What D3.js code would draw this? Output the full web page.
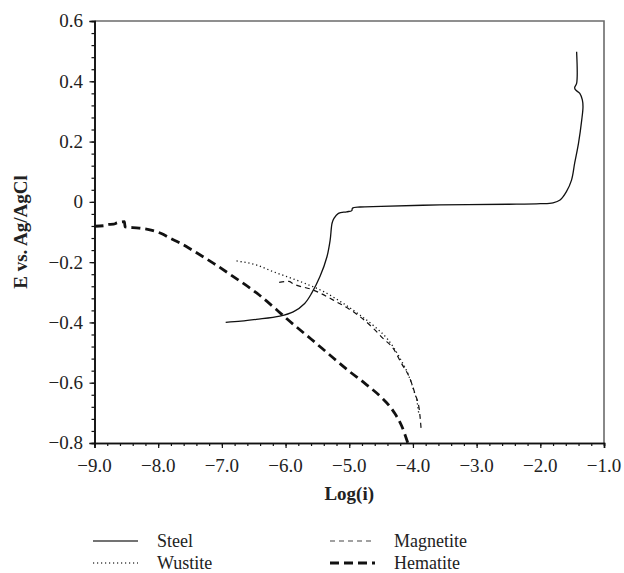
<!DOCTYPE html>
<html>
<head>
    <meta charset="UTF-8">
    <script src="https://d3js.org/d3.v7.min.js"></script>
    <style>
        body { margin: 0; background: #fff; }
        svg text { font-family: "Liberation Serif", serif; fill: #222; }
        .axis-title { font-weight: bold; font-size: 19px; }
        .tick-label { font-size: 19px; }
        .legend-label { font-size: 18px; }
    </style>
</head>
<body>
    <div id="chart"></div>
    <script>
        // curve data: [log(i), E]
        var steel = [[-6.94, -0.400], [-6.70, -0.396], [-6.46, -0.390], [-6.09, -0.379], [-5.88, -0.365],
            [-5.70, -0.337], [-5.59, -0.303], [-5.46, -0.248], [-5.35, -0.182], [-5.30, -0.127],
            [-5.27, -0.071], [-5.24, -0.055], [-5.17, -0.038], [-5.04, -0.033], [-4.96, -0.029],
            [-4.95, -0.021], [-4.83, -0.017], [-4.50, -0.015], [-3.58, -0.010], [-2.50, -0.008],
            [-2.00, -0.006], [-1.80, -0.003], [-1.69, 0.006], [-1.59, 0.034], [-1.51, 0.072],
            [-1.46, 0.129], [-1.40, 0.195], [-1.35, 0.271], [-1.33, 0.316], [-1.34, 0.338],
            [-1.38, 0.360], [-1.45, 0.372], [-1.46, 0.380], [-1.43, 0.393], [-1.43, 0.498]];

        var wustite = [[-6.77, -0.196], [-6.45, -0.210], [-6.19, -0.232], [-5.98, -0.248], [-5.70, -0.270],
            [-5.40, -0.298], [-5.10, -0.336], [-4.83, -0.376], [-4.60, -0.414], [-4.40, -0.455],
            [-4.20, -0.520], [-4.06, -0.580], [-3.98, -0.630], [-3.93, -0.670], [-3.91, -0.700]];

        var magnetite = [[-6.10, -0.267], [-5.95, -0.264], [-5.88, -0.272], [-5.57, -0.292], [-5.25, -0.326],
            [-4.83, -0.381], [-4.62, -0.420], [-4.47, -0.453], [-4.31, -0.486], [-4.18, -0.536],
            [-4.05, -0.585], [-3.97, -0.635], [-3.90, -0.690], [-3.87, -0.757]];

        var hematite = [[-9.00, -0.081], [-8.85, -0.079], [-8.80, -0.075], [-8.70, -0.074], [-8.65, -0.070],
            [-8.53, -0.066], [-8.52, -0.083], [-8.30, -0.087], [-8.13, -0.093], [-7.95, -0.105],
            [-7.81, -0.121], [-7.66, -0.136], [-7.45, -0.162], [-7.13, -0.204], [-6.82, -0.248],
            [-6.45, -0.303], [-6.14, -0.358], [-5.98, -0.388], [-5.60, -0.455], [-5.25, -0.518],
            [-5.00, -0.562], [-4.75, -0.603], [-4.50, -0.648], [-4.30, -0.697], [-4.18, -0.742],
            [-4.08, -0.800]];

        var xTicks = [-9, -8, -7, -6, -5, -4, -3, -2, -1];
        var yTicks = [0.6, 0.4, 0.2, 0, -0.2, -0.4, -0.6, -0.8];
        var seriesNames = ["Steel", "Wustite", "Magnetite", "Hematite"];

        var width = 624, height = 573;
        var margin = { top: 21, right: 20, bottom: 130, left: 94.5 };
        var serif = "'Liberation Serif', serif";

        var svg = d3.select("#chart").append("svg")
            .attr("width", width)
            .attr("height", height);

        var x = d3.scaleLinear().domain([-9, -1]).range([margin.left, width - margin.right]);
        var y = d3.scaleLinear().domain([-0.8, 0.6]).range([height - margin.bottom, margin.top]);

        var fmtMinus = function (s) { return s.replace("-", "\u2212"); };

        // frame (top and right) in grey
        svg.append("path")
            .attr("d", "M" + x(-9) + "," + y(0.6) + "H" + x(-1) + "V" + y(-0.8))
            .attr("fill", "none")
            .attr("stroke", "#6b6b6b")
            .attr("stroke-width", 1.6);

        // x axis
        var xMinor = d3.range(-9, -0.99, 0.2);
        var xAxis = svg.append("g").attr("transform", "translate(0," + y(-0.8) + ")");
        xAxis.call(d3.axisBottom(x).tickValues(xMinor).tickSize(3).tickFormat(""));
        xAxis.append("g").call(d3.axisBottom(x).tickValues(xTicks).tickSize(5).tickFormat(""));
        xAxis.selectAll("path.domain").attr("stroke", "#111").attr("stroke-width", 1.6);
        xAxis.selectAll(".tick line").attr("stroke", "#111").attr("stroke-width", 1.2);

        svg.selectAll(".x-label")
            .data(xTicks)
            .enter().append("text")
            .attr("class", "tick-label")
            .attr("font-family", serif)
            .attr("x", function (d) { return x(d); })
            .attr("y", 472)
            .attr("text-anchor", "middle")
            .text(function (d) { return fmtMinus(d3.format(".1f")(d)); });

        // y axis
        var yMinor = d3.range(-0.8, 0.601, 0.04);
        var yAxis = svg.append("g").attr("transform", "translate(" + x(-9) + ",0)");
        yAxis.call(d3.axisLeft(y).tickValues(yMinor).tickSize(3).tickFormat(""));
        yAxis.append("g").call(d3.axisLeft(y).tickValues(yTicks).tickSize(5).tickFormat(""));
        yAxis.selectAll("path.domain").attr("stroke", "#111").attr("stroke-width", 1.6);
        yAxis.selectAll(".tick line").attr("stroke", "#111").attr("stroke-width", 1.2);

        svg.selectAll(".y-label")
            .data(yTicks)
            .enter().append("text")
            .attr("class", "tick-label")
            .attr("font-family", serif)
            .attr("x", 83)
            .attr("y", function (d) { return y(d); })
            .attr("dy", "0.34em")
            .attr("text-anchor", "end")
            .text(function (d) { return d === 0 ? "0" : fmtMinus(d3.format(".1f")(d)); });

        // titles
        svg.append("text")
            .attr("class", "axis-title")
            .attr("font-family", serif)
            .attr("x", (x(-9) + x(-1)) / 2)
            .attr("y", 500)
            .attr("text-anchor", "middle")
            .text("Log(i)");

        svg.append("text")
            .attr("class", "axis-title")
            .attr("font-family", serif)
            .attr("transform", "translate(27," + (y(0.6) + y(-0.8)) / 2 + ") rotate(-90)")
            .attr("text-anchor", "middle")
            .text("E vs. Ag/AgCl");

        // curves
        var lineSmooth = d3.line()
            .x(function (d) { return x(d[0]); })
            .y(function (d) { return y(d[1]); })
            .curve(d3.curveCatmullRom.alpha(0.5));
        var lineMono = d3.line()
            .x(function (d) { return x(d[0]); })
            .y(function (d) { return y(d[1]); })
            .curve(d3.curveMonotoneX);

        var styles = {
            Steel: { w: 1.3, dash: null },
            Wustite: { w: 1.3, dash: "1.2,2.8" },
            Magnetite: { w: 1.2, dash: "5,4" },
            Hematite: { w: 2.8, dash: "9,5" }
        };
        var seriesData = { Steel: steel, Wustite: wustite, Magnetite: magnetite, Hematite: hematite };

        seriesNames.forEach(function (name) {
            svg.append("path")
                .datum(seriesData[name])
                .attr("d", name === "Steel" ? lineSmooth : lineMono)
                .attr("fill", "none")
                .attr("stroke", "#111")
                .attr("stroke-width", styles[name].w)
                .attr("stroke-dasharray", styles[name].dash);
        });

        // legend
        var legendPos = {
            Steel: [93, 541], Wustite: [93, 563],
            Magnetite: [330, 541], Hematite: [330, 563]
        };
        seriesNames.forEach(function (name) {
            var p = legendPos[name];
            svg.append("line")
                .attr("x1", p[0]).attr("x2", p[0] + 45)
                .attr("y1", p[1]).attr("y2", p[1])
                .attr("stroke", name === "Hematite" ? "#111" : "#444")
                .attr("stroke-width", styles[name].w)
                .attr("stroke-dasharray", styles[name].dash);
            svg.append("text")
                .attr("class", "legend-label")
                .attr("font-family", serif)
                .attr("x", p[0] + 64)
                .attr("y", p[1])
                .attr("dy", "0.32em")
                .text(name);
        });
    </script>
</body>
</html>
